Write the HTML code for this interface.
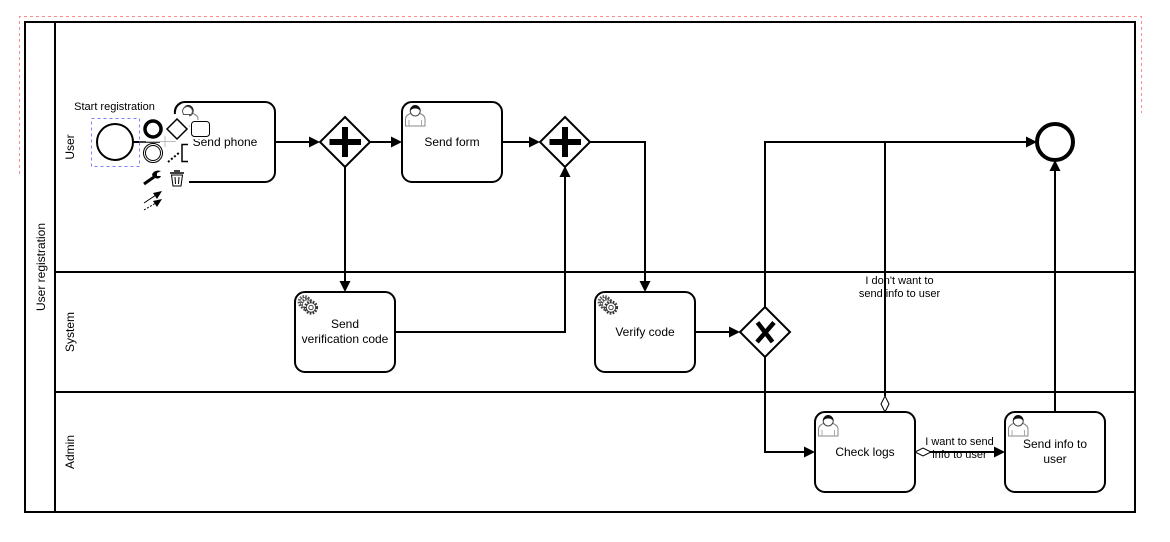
<!DOCTYPE html>
<html><head><meta charset="utf-8"><style>
html,body{margin:0;padding:0;background:#fff;width:1170px;height:542px;overflow:hidden}
svg{display:block}
text{font-family:"Liberation Sans",sans-serif;font-size:12px;fill:#000;text-anchor:middle}
.s{font-size:11px}
.l{fill:none;stroke:#000;stroke-width:2}
.t{fill:#fff;stroke:#000;stroke-width:2}
.a{fill:#000;stroke:none}
</style></head><body>
<svg width="1170" height="542" viewBox="0 0 1170 542" xmlns="http://www.w3.org/2000/svg">
<defs>
<g id="user">
<path d="M.5 21v-7c0-3.500 3.500-5 6-6 1.500 1.200 6 1.200 7.500 0 2.500 1 6 2.500 6 6v7z" fill="#fff" stroke="#888" stroke-width="1"/>
<path d="M4 21v-6M16.500 21v-6" stroke="#aaa" stroke-width="1"/>
<circle cx="10.200" cy="6" r="5" fill="#fff" stroke="#444" stroke-width="1"/>
<path d="M5 6.500c-.5-3.500 2-6.500 5.200-6.500s5.800 3 5.300 6.500c-1-2.500-3.500-3-5.300-3S6 4 5 6.500z" fill="#111"/>
</g>
<g id="gear" fill="#fff" stroke="#555">
<circle cx="6.500" cy="7" r="5.600" stroke-width="2.600" stroke-dasharray="1.500 1.200"/>
<circle cx="6.500" cy="7" r="4.500" stroke-width=".8"/>
<circle cx="9" cy="9.500" r="5.600" stroke-width="2.600" stroke-dasharray="1.500 1.200"/>
<circle cx="9" cy="9.500" r="4.500" stroke-width=".8"/>
<circle cx="13" cy="12.500" r="5.800" stroke-width="2.600" stroke="#333" stroke-dasharray="1.600 1.300"/>
<circle cx="13" cy="12.500" r="4.700" stroke-width=".9" stroke="#333"/>
<circle cx="13" cy="12.500" r="2.200" stroke-width=".9" stroke="#333"/>
</g>
</defs>
<rect width="1170" height="542" fill="#fff"/>
<!-- selection guide -->
<path d="M19.500 174V16.500H1141.500V113" fill="none" stroke="#ff8a8a" stroke-width="1" stroke-dasharray="3 3"/>
<!-- pool -->
<rect x="25" y="22" width="1110" height="490" fill="#fff" stroke="#000" stroke-width="2"/>
<path class="l" d="M55 22V512M55 272H1135M55 392H1135"/>
<text transform="translate(45 267) rotate(-90)">User registration</text>
<text transform="translate(74 147) rotate(-90)">User</text>
<text transform="translate(74 332) rotate(-90)">System</text>
<text transform="translate(74 452) rotate(-90)">Admin</text>
<!-- connectors -->
<path class="l" d="M275 142H311M370 142H393M502 142H531M590 142H645V283M345 167V283M395 332H565V176M695 332H731M765 307V142H1028M765 357V452H806M885 396V142M925 452H996M1055 412V168M133 142H175"/>
<path class="a" d="M320 142l-11-5.500v11zM402 142l-11-5.500v11zM540 142l-11-5.500v11zM645 292l-5.500-11h11zM345 292l-5.500-11h11zM565 166l-5.500 11h11zM740 332l-11-5.500v11zM815 452l-11-5.500v11zM1005 452l-11-5.500v11zM1037 142l-11-5.500v11zM1055 160l-5.500 11h11z"/>
<path d="M885 412l-4-8 4-8 4 8z" fill="#fff" stroke="#000" stroke-width="1"/>
<path d="M915 452l8-4 8 4-8 4z" fill="#fff" stroke="#000" stroke-width="1"/>
<!-- tasks -->
<rect class="t" x="175" y="102" width="100" height="80" rx="10"/>
<rect class="t" x="402" y="102" width="100" height="80" rx="10"/>
<rect class="t" x="295" y="292" width="100" height="80" rx="10"/>
<rect class="t" x="595" y="292" width="100" height="80" rx="10"/>
<rect class="t" x="815" y="412" width="100" height="80" rx="10"/>
<rect class="t" x="1005" y="412" width="100" height="80" rx="10"/>
<use href="#user" x="178" y="105"/>
<use href="#user" x="405" y="105"/>
<use href="#user" x="818" y="415"/>
<use href="#user" x="1008" y="415"/>
<use href="#gear" x="298" y="295"/>
<use href="#gear" x="598" y="295"/>
<text x="225" y="146">Send phone</text>
<text x="452" y="146">Send form</text>
<text x="345" y="328">Send</text>
<text x="345" y="343">verification code</text>
<text x="645" y="336">Verify code</text>
<text x="865" y="456">Check logs</text>
<text x="1055" y="448">Send info to</text>
<text x="1055" y="463">user</text>
<!-- gateways -->
<path class="t" d="M345 117l25 25-25 25-25-25z"/>
<path class="t" d="M565 117l25 25-25 25-25-25z"/>
<path class="t" d="M765 307l25 25-25 25-25-25z"/>
<path class="a" d="M342 127h6v12h13v6h-13v12h-6v-12h-12.500v-6H342z"/>
<path class="a" d="M562 127h6v12h13v6h-13v12h-6v-12h-12.500v-6H562z"/>
<path d="M757.500 322.500L772.500 342M774 322.500L757 342" fill="none" stroke="#000" stroke-width="4.500"/>
<!-- events -->
<circle cx="1055" cy="142" r="18" fill="#fff" stroke="#000" stroke-width="4"/>
<!-- context overlay -->
<rect x="139" y="112" width="50" height="100" fill="#fff"/>
<rect x="190" y="120" width="22" height="19" fill="#fff"/>
<path d="M187.500 106.500a5 5 0 0 1 5 5l-1 3h-8l-1-3a5 5 0 0 1 5-5z" fill="#fff" stroke="#555" stroke-width="1"/>
<path d="M175 114a10 10 0 0 1 6-11" fill="none" stroke="#000" stroke-width="2"/>
<path d="M189 182H265" class="l"/>
<circle cx="115" cy="142" r="18" fill="#fff" stroke="#000" stroke-width="2"/>
<path d="M133 142H160" stroke="#000" stroke-width="1.500"/>
<path d="M146 141.500H176M165 136V147" stroke="#bbb" stroke-width="1"/>
<rect x="91.500" y="118.500" width="48" height="48" fill="none" stroke="#8080ff" stroke-width="1" stroke-dasharray="3 3"/>
<text class="s" x="114.500" y="110">Start registration</text>
<circle cx="153" cy="129" r="8" fill="#fff" stroke="#000" stroke-width="3.500"/>
<circle cx="153" cy="153" r="9.500" fill="#fff" stroke="#000" stroke-width="1"/>
<circle cx="153" cy="153" r="7.500" fill="#fff" stroke="#000" stroke-width="1"/>
<path d="M177 119l10 10-10 10-10-10z" fill="#fff" stroke="#000" stroke-width="1.500"/>
<rect x="191.500" y="121.500" width="18" height="15" rx="3" fill="#fff" stroke="#000" stroke-width="1"/>
<path d="M188 144.500h-6v17h6" fill="none" stroke="#000" stroke-width="1.500"/>
<path d="M168 162l12-10" fill="none" stroke="#000" stroke-width="2" stroke-dasharray="2 2"/>
<path d="M144 184l10-7" stroke="#000" stroke-width="3"/>
<path d="M152 175c1-4 5-5 9-4l-4 2v3l4 0c-1 3-6 4-9-1z" fill="#000"/>
<path d="M170 173h14M174 171h6" stroke="#000" stroke-width="1.500"/>
<path d="M171.500 175h11l-1.500 11h-8z" fill="#fff" stroke="#000" stroke-width="1"/>
<path d="M175 177l.5 7M179 177l-.5 7" stroke="#000" stroke-width="1"/>
<path d="M144 203l12-8" stroke="#000" stroke-width="1"/>
<path d="M162 191l-9 2 4 6z" fill="#000"/>
<path d="M144 210l12-7" stroke="#000" stroke-width="1" stroke-dasharray="2 1.500"/>
<path d="M162 199l-9 2 4 6z" fill="#000"/>
<!-- edge labels -->
<text class="s" x="899.500" y="284">I don't want to</text>
<text class="s" x="899.500" y="297">send info to user</text>
<text class="s" x="959.500" y="445">I want to send</text>
<text class="s" x="959.500" y="458">info to user</text>
</svg>
</body></html>
